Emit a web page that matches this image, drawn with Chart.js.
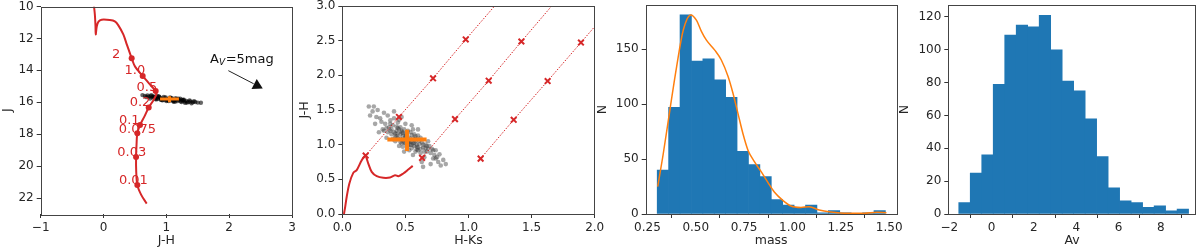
<!DOCTYPE html>
<html lang="en">

<head>
    <meta charset="UTF-8">
    <title>Cluster photometry, mass and extinction</title>
    <script src="https://cdn.jsdelivr.net/npm/chart.js"></script>
    <style>
        body { margin: 0; background: #fff; }
        #wrap { position: relative; width: 1200px; height: 250px; overflow: hidden; }
        canvas { position: absolute; top: 0; }
    </style>
</head>

<body>
    <div id="wrap">
        <canvas id="cmd" width="300" height="250" style="left:0px"></canvas>
        <canvas id="ccd" width="313" height="250" style="left:297px"></canvas>
        <canvas id="mass" width="315" height="250" style="left:595px"></canvas>
        <canvas id="av" width="303" height="250" style="left:897px"></canvas>
    </div>
<script>
    // ---- panel 1: J vs J-H ----
    const isoJH = [-0.151, -0.138, -0.128, -0.124, -0.108, -0.08, -0.03, 0.1, 0.18, 0.236, 0.315, 0.37, 0.448, 0.5, 0.623, 0.72, 0.83, 0.84, 0.79, 0.719, 0.65, 0.581, 0.538, 0.525, 0.518, 0.52, 0.538, 0.6, 0.687];
    const isoJ = [10.0, 10.5, 11.2, 11.75, 11.25, 10.95, 10.83, 10.85, 10.93, 11.18, 11.75, 12.37, 13.24, 13.75, 14.35, 14.8, 15.3, 15.5, 15.9, 16.33, 16.9, 17.43, 17.94, 18.7, 19.43, 20.3, 21.19, 21.8, 22.35];
    const massLabels = ['2', '1.0', '0.5', '0.2', '0.1', '0.075', '0.03', '0.01'];
    const markJH = [0.448, 0.623, 0.83, 0.719, 0.581, 0.538, 0.518, 0.538];
    const markJ = [13.24, 14.35, 15.3, 16.33, 17.43, 17.94, 19.43, 21.19];
    const labelJH = [0.2, 0.5, 0.69, 0.58, 0.41, 0.54, 0.45, 0.475];
    const labelJ = [12.99, 14.02, 15.1, 16.05, 17.12, 17.7, 19.14, 20.9];
    const starJH = [0.62, 0.66, 0.70, 0.72, 0.75, 0.78, 0.80, 0.82, 0.85, 0.87, 0.90, 0.92, 0.95, 0.97, 1.00, 1.02, 1.05, 1.08, 1.10, 1.12, 1.15, 1.18, 1.20, 1.23, 1.26, 1.29, 1.32, 1.35, 1.38, 1.42, 1.46, 1.50, 1.55, 0.68, 0.88, 1.00, 1.15, 1.30, 0.76, 1.40, 0.93, 1.07, 1.25, 0.83, 1.12,
        0.74, 0.79, 0.84, 0.89, 0.94, 0.99, 1.04, 1.09, 1.14, 1.19, 1.24, 1.28, 1.33, 1.37, 0.86, 0.96, 1.06, 1.16, 1.22, 0.81, 0.91, 1.01, 1.11, 1.27, 1.44];
    const starJ = [15.55, 15.60, 15.58, 15.65, 15.62, 15.70, 15.66, 15.74, 15.70, 15.78, 15.72, 15.80, 15.76, 15.84, 15.78, 15.86, 15.80, 15.88, 15.82, 15.90, 15.84, 15.92, 15.86, 15.94, 15.90, 15.96, 15.92, 15.98, 15.95, 16.00, 15.98, 16.02, 16.03, 15.68, 15.64, 15.92, 15.74, 16.04, 15.56, 16.06, 15.86, 15.74, 15.84, 15.80, 15.96,
        15.76, 15.62, 15.82, 15.66, 15.88, 15.70, 15.92, 15.74, 15.96, 15.78, 15.98, 15.84, 16.02, 15.88, 15.60, 15.66, 15.70, 15.80, 15.78, 15.68, 15.84, 15.88, 15.94, 15.86, 15.94];
    const crossJH = [0.90, 1.20], crossJ = [15.8, 15.8];
    const crossJH2 = [1.05, 1.05], crossJ2 = [15.62, 16.0];
    const avShaftJH = [1.987, 2.39], avShaftJ = [14.02, 14.84];
    const avHeadJH = [2.443], avHeadJ = [14.95];
    const avTextJH = 1.696, avTextJ = 13.57;

    // ---- panel 2: J-H vs H-Ks ----
    const iso2HK = [0.013, 0.021, 0.035, 0.056, 0.087, 0.114, 0.154, 0.185, 0.193, 0.206, 0.233, 0.273, 0.325, 0.378, 0.418, 0.444, 0.483, 0.523, 0.558];
    const iso2JH = [0.0, 0.081, 0.249, 0.44, 0.593, 0.632, 0.775, 0.843, 0.80, 0.727, 0.608, 0.545, 0.522, 0.526, 0.56, 0.545, 0.584, 0.641, 0.694];
    const rv1HK = [0.185, 0.449, 0.719, 0.978, 1.207], rv1JH = [0.843, 1.40, 1.957, 2.517, 3.0];
    const rv2HK = [0.632, 0.893, 1.160, 1.419, 1.659], rv2JH = [0.809, 1.368, 1.923, 2.488, 3.0];
    const rv3HK = [1.096, 1.358, 1.627, 1.891, 2.0], rv3JH = [0.799, 1.359, 1.918, 2.473, 2.703];
    const cloudHK = [0.21, 0.25, 0.22, 0.28, 0.30, 0.26, 0.33, 0.36, 0.32, 0.29, 0.38, 0.41, 0.40, 0.35, 0.44, 0.47, 0.43, 0.39, 0.46, 0.50, 0.48, 0.42, 0.52, 0.55, 0.53, 0.45, 0.50, 0.57, 0.60, 0.58, 0.55, 0.49, 0.62, 0.64, 0.60, 0.56, 0.66, 0.68, 0.70, 0.65, 0.72, 0.74, 0.76, 0.78, 0.70, 0.80, 0.63, 0.37, 0.41, 0.44, 0.47, 0.51, 0.54, 0.59, 0.61, 0.57, 0.52, 0.48, 0.46, 0.43, 0.39, 0.34, 0.31, 0.62, 0.67, 0.69, 0.73, 0.53, 0.58, 0.49, 0.45, 0.40, 0.36, 0.27, 0.24, 0.64, 0.75, 0.82, 0.56, 0.51, 0.47, 0.55, 0.60, 0.44, 0.38, 0.66, 0.71, 0.53, 0.42, 0.58,
        0.45, 0.48, 0.50, 0.53, 0.56, 0.59, 0.62, 0.43, 0.46, 0.49, 0.52, 0.55, 0.58, 0.61, 0.64, 0.41, 0.44, 0.47, 0.50, 0.54, 0.57, 0.60, 0.63, 0.67, 0.48, 0.52, 0.56, 0.59, 0.38, 0.42, 0.35, 0.33, 0.65, 0.68, 0.72, 0.74, 0.77, 0.50, 0.46, 0.54];
    const cloudJH = [1.55, 1.55, 1.42, 1.50, 1.38, 1.30, 1.46, 1.42, 1.22, 1.18, 1.35, 1.48, 1.28, 1.10, 1.32, 1.40, 1.20, 1.15, 1.25, 1.30, 1.12, 1.05, 1.20, 1.28, 1.10, 0.98, 1.02, 1.15, 1.22, 1.05, 0.95, 0.90, 1.10, 1.00, 0.92, 0.85, 0.95, 1.05, 0.88, 0.82, 0.80, 0.92, 0.75, 0.70, 0.72, 0.78, 0.75, 1.25, 1.38, 1.10, 1.18, 1.14, 1.04, 1.00, 1.06, 0.98, 0.98, 1.06, 1.15, 1.26, 1.22, 1.30, 1.33, 0.88, 0.90, 0.98, 0.85, 0.92, 1.12, 1.22, 1.36, 1.08, 1.18, 1.40, 1.48, 0.68, 0.82, 0.72, 1.22, 1.08, 1.02, 1.00, 0.96, 1.16, 1.20, 1.00, 0.94, 1.05, 1.12, 0.90,
        1.22, 1.17, 1.12, 1.07, 1.02, 0.97, 0.94, 1.12, 1.08, 1.03, 0.99, 1.14, 1.09, 1.01, 0.96, 1.18, 1.24, 1.20, 1.16, 1.18, 1.03, 1.13, 1.03, 0.98, 0.97, 1.04, 1.09, 0.93, 1.30, 1.16, 1.24, 1.20, 0.90, 0.94, 0.92, 0.80, 0.86, 1.10, 1.04, 1.00];
    const crossHK = [0.357, 0.668], crossJHh = [1.075, 1.075];
    const crossHK2 = [0.513, 0.513], crossJHv = [0.909, 1.215];

    // ---- panel 3: mass histogram ----
    const massBins = [0.330, 0.389, 0.448, 0.507, 0.566, 0.625, 0.684, 0.743, 0.802, 0.861, 0.920, 0.979, 1.038, 1.097, 1.156, 1.215, 1.274, 1.333, 1.392, 1.451];
    const massCounts = [40, 97, 181, 139, 141, 122, 106, 57, 45, 34, 13, 8, 6, 8, 1, 3, 1, 0, 1, 3];
    const kdeMass = [0.303, 0.332, 0.366, 0.401, 0.435, 0.474, 0.504, 0.529, 0.555, 0.598, 0.632, 0.667, 0.692, 0.718, 0.744, 0.770, 0.803, 0.838, 0.872, 0.906, 0.950, 0.992, 1.044, 1.086, 1.138, 1.198, 1.284, 1.370, 1.438, 1.486];
    const kdeN = [24.8, 55, 94.5, 134, 167, 181, 176, 166, 158, 149, 140, 125, 110, 91.5, 73, 58, 47.6, 38.5, 29, 20, 12.4, 7.3, 6, 6.7, 3.6, 1.8, 0.6, 0.6, 1.5, 1.2];

    // ---- panel 4: Av histogram ----
    const avBins = [-1.284, -0.741, -0.197, 0.346, 0.890, 1.433, 1.977, 2.520, 3.064, 3.607, 4.151, 4.694, 5.238, 5.781, 6.325, 6.868, 7.412, 7.955, 8.499, 9.042];
    const avCounts = [7, 25, 36, 79, 109, 115, 114, 121, 100, 81, 75, 58, 35, 16, 8, 7, 4, 5, 2, 3];

    // tick values
    const jhTicks = [-1, 0, 1, 2, 3], jTicks = [10, 12, 14, 16, 18, 20, 22];
    const hkTicks = [0, 0.5, 1, 1.5, 2], jh2Ticks = [0, 0.5, 1, 1.5, 2, 2.5, 3];
    const massTicks = [0.25, 0.5, 0.75, 1, 1.25, 1.5], nMassTicks = [0, 50, 100, 150];
    const avTicks = [-2, 0, 2, 4, 6, 8], nAvTicks = [0, 20, 40, 60, 80, 100, 120];

    const red = '#d62728', orange = '#ff7f0e', blue = '#1f77b4';
    Chart.defaults.font.family = 'DejaVu Sans';
    Chart.defaults.font.size = 12;
    Chart.defaults.color = '#262626';
    Chart.defaults.animation = false;
    Chart.defaults.events = [];

    const pts = (xs, ys) => xs.map((x, i) => ({ x: x, y: ys[i] }));
    const minus = v => String(v).replace('-', '\u2212');

    function axis(o) {
        return {
            type: 'linear', min: o.min, max: o.max, reverse: !!o.reverse, offset: false,
            grid: { drawOnChartArea: false, tickLength: 4, color: '#333' },
            border: { display: false },
            ticks: { padding: 3, maxRotation: 0, autoSkip: false, callback: o.fmt },
            title: { display: true, text: o.title, font: { size: 12.5 }, padding: o.horiz ? { top: 0, bottom: 2 } : 0 },
            afterBuildTicks: s => { s.ticks = o.ticks.map(v => ({ value: v })); },
            afterFit: s => {
                if (o.horiz) s.height = o.size; else s.width = o.size;
                s.paddingLeft = s.paddingRight = s.paddingTop = s.paddingBottom = 0;
            }
        };
    }

    // matplotlib-like box round the axes
    const frame = {
        id: 'frame',
        afterDraw(chart) {
            const { ctx, chartArea: a } = chart;
            ctx.save();
            ctx.strokeStyle = '#444';
            ctx.lineWidth = 1;
            ctx.strokeRect(Math.round(a.left) + 0.5, Math.round(a.top) + 0.5, Math.round(a.right - a.left), Math.round(a.bottom - a.top));
            ctx.restore();
        }
    };

    const cmdText = {
        id: 'cmdText',
        afterDatasetsDraw(chart) {
            const { ctx, scales: { x, y } } = chart;
            ctx.save();
            ctx.font = '13px DejaVu Sans';
            ctx.fillStyle = red;
            ctx.textAlign = 'center';
            ctx.textBaseline = 'middle';
            massLabels.forEach((t, i) => ctx.fillText(t, x.getPixelForValue(labelJH[i]), y.getPixelForValue(labelJ[i])));
            // A_V=5mag
            ctx.fillStyle = '#111';
            ctx.textAlign = 'left';
            ctx.textBaseline = 'alphabetic';
            let px = x.getPixelForValue(avTextJH);
            const py = y.getPixelForValue(avTextJ);
            ctx.fillText('A', px, py);
            px += ctx.measureText('A').width;
            ctx.font = 'italic 9px DejaVu Sans';
            ctx.fillText('V', px, py + 2);
            px += ctx.measureText('V').width + 0.5;
            ctx.font = '13px DejaVu Sans';
            ctx.fillText('=5mag', px, py);
            ctx.restore();
        }
    };

    const baseOpts = (xAx, yAx, pad) => ({
        responsive: false,
        layout: { padding: { left: 0, top: 5, right: pad, bottom: 0 } },
        plugins: { legend: { display: false }, tooltip: { enabled: false } },
        scales: { x: xAx, y: yAx }
    });

    const line = (xs, ys, color, width, extra) => Object.assign({
        data: pts(xs, ys), showLine: true, borderColor: color, borderWidth: width, pointRadius: 0, tension: 0
    }, extra || {});

    // panel 1
    new Chart(document.getElementById('cmd'), {
        type: 'scatter',
        data: {
            datasets: [
                line(crossJH, crossJ, orange, 3),
                line(crossJH2, crossJ2, orange, 3),
                { data: pts(avHeadJH, avHeadJ), pointStyle: 'triangle', rotation: 117.6, pointRadius: 6.5, backgroundColor: '#111', borderWidth: 0 },
                line(avShaftJH, avShaftJ, '#222', 1),
                { data: pts(markJH, markJ), pointRadius: 3, backgroundColor: red, borderWidth: 0 },
                line(isoJH, isoJ, red, 2, { tension: 0.3 }),
                { data: pts(starJH, starJ), pointRadius: 2.2, backgroundColor: 'rgba(0,0,0,0.6)', borderWidth: 0 }
            ]
        },
        options: baseOpts(
            axis({ min: -1, max: 3, ticks: jhTicks, fmt: minus, title: 'J-H', horiz: true, size: 36 }),
            axis({ min: 10, max: 23, reverse: true, ticks: jTicks, fmt: v => v, title: 'J', size: 40.7 }),
            8),
        plugins: [frame, cmdText]
    });

    // panel 2
    const rv = (xs, ys) => line(xs, ys, red, 1, {
        borderDash: [1.5, 1.5],
        pointRadius: xs.map((_, i) => i < xs.length - 1 ? 4 : 0),
        pointStyle: 'crossRot', pointBorderColor: red, pointBorderWidth: 2
    });
    new Chart(document.getElementById('ccd'), {
        type: 'scatter',
        data: {
            datasets: [
                line(crossHK, crossJHh, orange, 4),
                line(crossHK2, crossJHv, orange, 4),
                rv(rv1HK, rv1JH),
                rv(rv2HK, rv2JH),
                rv(rv3HK, rv3JH),
                line(iso2HK, iso2JH, red, 2, { tension: 0.3 }),
                { data: pts(cloudHK, cloudJH), pointRadius: 2.3, backgroundColor: 'rgba(60,60,60,0.45)', borderWidth: 0 }
            ]
        },
        options: baseOpts(
            axis({ min: 0, max: 2, ticks: hkTicks, fmt: v => v.toFixed(1), title: 'H-Ks', horiz: true, size: 36 }),
            axis({ min: 0, max: 3, ticks: jh2Ticks, fmt: v => v.toFixed(1), title: 'J-H', size: 45.3 }),
            15.3),
        plugins: [frame]
    });

    // panel 3
    new Chart(document.getElementById('mass'), {
        type: 'bar',
        data: {
            datasets: [
                { type: 'line', data: pts(kdeMass, kdeN), borderColor: orange, borderWidth: 1.5, pointRadius: 0, cubicInterpolationMode: 'monotone', fill: false },
                { type: 'bar', data: pts(massBins, massCounts), backgroundColor: blue, borderWidth: 0, barPercentage: 1, categoryPercentage: 1 }
            ]
        },
        options: baseOpts(
            axis({ min: 0.241, max: 1.539, ticks: massTicks, fmt: v => v.toFixed(2), title: 'mass', horiz: true, size: 36 }),
            axis({ min: 0, max: 190, ticks: nMassTicks, fmt: v => v, title: 'N', size: 50.7 }),
            13.3),
        plugins: [frame]
    });

    // panel 4
    new Chart(document.getElementById('av'), {
        type: 'bar',
        data: {
            datasets: [
                { data: pts(avBins, avCounts), backgroundColor: blue, borderWidth: 0, barPercentage: 1, categoryPercentage: 1 }
            ]
        },
        options: baseOpts(
            axis({ min: -2.05, max: 9.65, ticks: avTicks, fmt: minus, title: 'Av', horiz: true, size: 36 }),
            axis({ min: 0, max: 127.3, ticks: nAvTicks, fmt: v => v, title: 'N', size: 51.3 }),
            4.3),
        plugins: [frame]
    });
</script>
</body>

</html>
